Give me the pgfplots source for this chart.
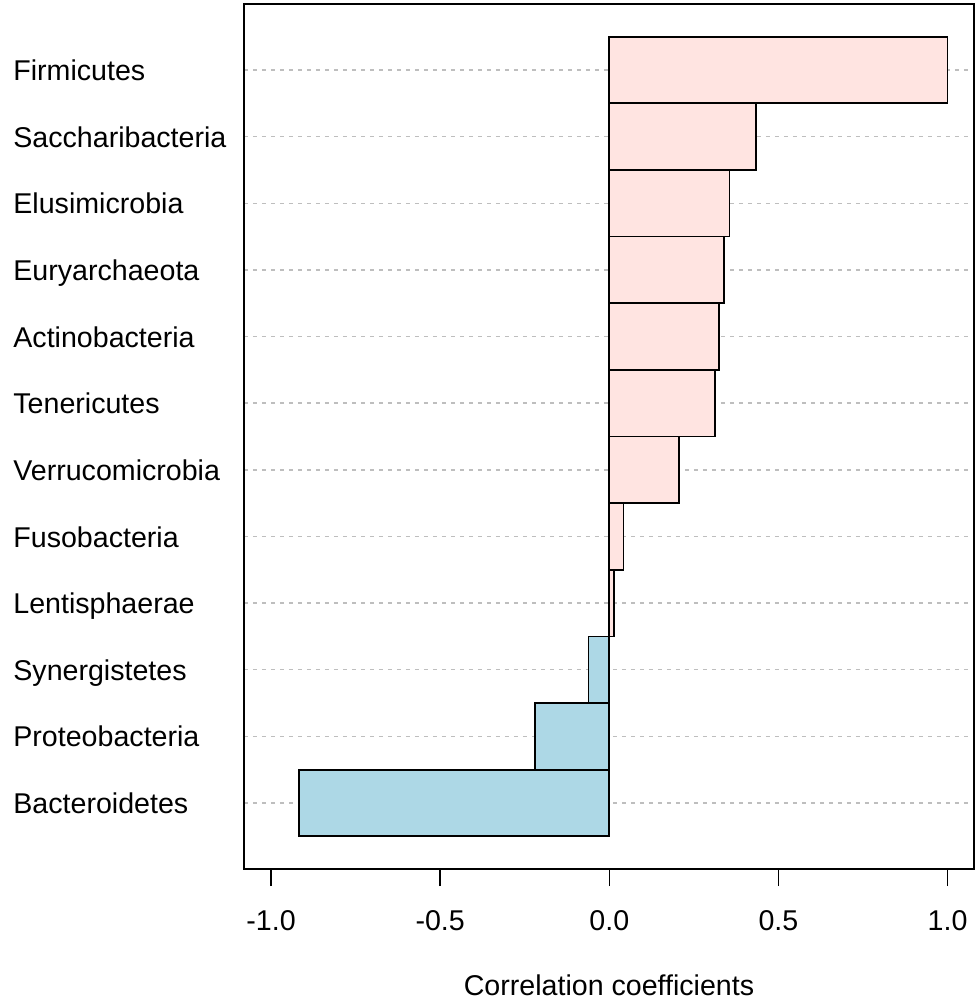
\documentclass[border=0pt]{standalone}
\usepackage{fontspec}
\setmainfont{Liberation Sans}
\usepackage{pgfplots}
\pgfplotsset{compat=1.18}

\definecolor{posfill}{HTML}{FFE4E1}
\definecolor{negfill}{HTML}{ADD8E6}
\definecolor{gridgray}{HTML}{BEBEBE}
\newcommand\lbl{\fontsize{14.3}{17}\selectfont}

\begin{document}
\begin{tikzpicture}
\begin{axis}[
  at={(0,0)}, anchor=south west,
  scale only axis, width=365pt, height=432.5pt,
  xmin=-1.080, xmax=1.078, ymin=0.01, ymax=12.99,
  xtick={-1,-0.5,0,0.5,1},
  xticklabels={-1.0,-0.5,0.0,0.5,1.0},
  xtick pos=bottom, tick align=outside,
  xtick style={line width=0.8pt, black},
  major tick length=8.5pt,
  ytick={1,...,12},
  yticklabels={Bacteroidetes,Proteobacteria,Synergistetes,Lentisphaerae,
    Fusobacteria,Verrucomicrobia,Tenericutes,Actinobacteria,
    Euryarchaeota,Elusimicrobia,Saccharibacteria,Firmicutes},
  ytick style={draw=none},
  ymajorgrids,
  grid style={gridgray, dash pattern=on 2pt off 2.5pt, line width=0.75pt},
  axis line style={line width=1pt},
  tick label style={font=\lbl},
  xticklabel style={anchor=base, yshift=-22.2pt},
  yticklabel style={anchor=base west, inner sep=0pt, xshift=-107pt, yshift=-5.3pt},
  xlabel={Correlation coefficients},
  xlabel style={at={(rel axis cs:0.5,0)}, anchor=base, yshift=-63pt, font=\lbl},
  xbar, bar width=1, bar shift=0,
  clip=false
]
% positive correlations
\addplot[fill=posfill, draw=black, line width=0.85pt] coordinates {
  (1.000,12) (0.433,11) (0.355,10) (0.340,9) (0.325,8)
  (0.313,7) (0.206,6) (0.042,5) (0.014,4)
};
% negative correlations
\addplot[fill=negfill, draw=black, line width=0.85pt] coordinates {
  (-0.062,3) (-0.220,2) (-0.917,1)
};
\coordinate (ll) at (rel axis cs:0,0);
\end{axis}
\pgfresetboundingbox
\useasboundingbox (ll) ++(-122pt,-67pt) rectangle ++(488.5pt,501.5pt);
\end{tikzpicture}
\end{document}
